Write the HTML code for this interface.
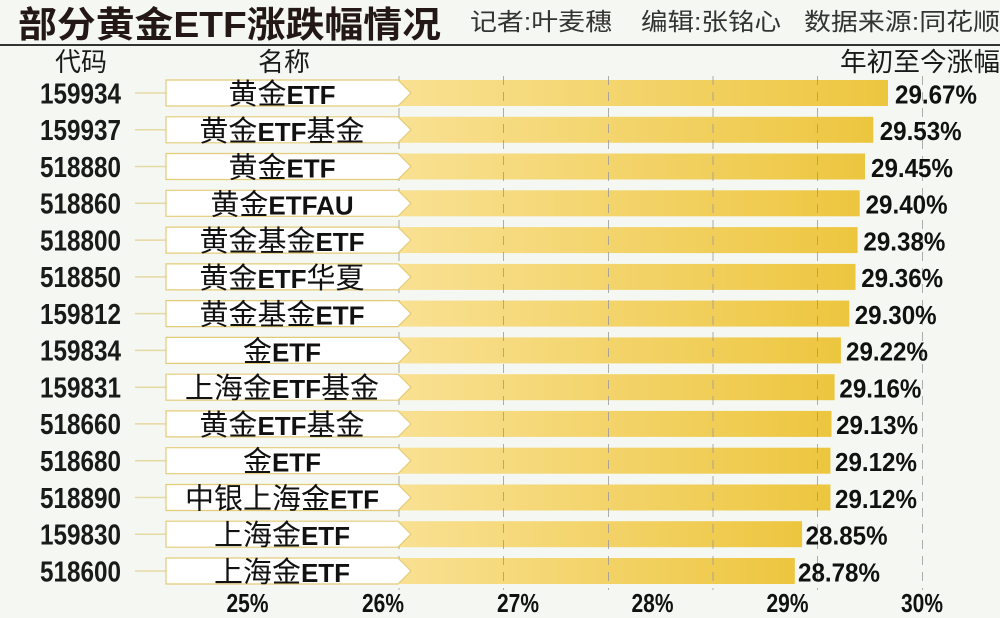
<!DOCTYPE html>
<html><head><meta charset="utf-8">
<style>
html,body{margin:0;padding:0;background:#f4f7f2;}
svg{display:block;}
.cjk{font-family:"Liberation Sans","Noto Sans CJK SC",sans-serif;}
</style></head>
<body>
<svg width="1000" height="618" viewBox="0 0 1000 618" xmlns="http://www.w3.org/2000/svg">
<defs>
<linearGradient id="g" x1="0" y1="0" x2="1" y2="0">
<stop offset="0" stop-color="#f9e194"/>
<stop offset="1" stop-color="#edc63f"/>
</linearGradient>
</defs>
<rect width="1000" height="618" fill="#f4f7f2"/>

<!-- title -->
<text x="18" y="37" class="cjk" font-size="36" font-weight="bold" fill="#231815" textLength="423" lengthAdjust="spacingAndGlyphs">部分黄金ETF涨跌幅情况</text>
<g class="cjk" font-size="24" fill="#333">
<text x="470" y="30" textLength="142" lengthAdjust="spacingAndGlyphs">记者:叶麦穗</text>
<text x="641" y="30" textLength="140" lengthAdjust="spacingAndGlyphs">编辑:张铭心</text>
<text x="804" y="30" textLength="196" lengthAdjust="spacingAndGlyphs">数据来源:同花顺</text>
</g>
<rect x="0" y="44" width="1000" height="2" fill="#333"/>

<!-- headers -->
<g class="cjk" font-size="26" fill="#1a1a1a">
<text x="55" y="71" textLength="52" lengthAdjust="spacingAndGlyphs">代码</text>
<text x="258" y="71" textLength="52" lengthAdjust="spacingAndGlyphs">名称</text>
<text x="840" y="71" textLength="160" lengthAdjust="spacingAndGlyphs">年初至今涨幅</text>
</g>

<!-- bars -->
<g fill="url(#g)">
<rect x="392" y="80" width="496" height="26"/>
<rect x="392" y="116.8" width="481.3" height="26"/>
<rect x="392" y="153.5" width="473" height="26"/>
<rect x="392" y="190.3" width="467.7" height="26"/>
<rect x="392" y="227.1" width="465.6" height="26"/>
<rect x="392" y="263.9" width="463.5" height="26"/>
<rect x="392" y="300.6" width="457.3" height="26"/>
<rect x="392" y="337.4" width="448.9" height="26"/>
<rect x="392" y="374.2" width="442.6" height="26"/>
<rect x="392" y="410.9" width="439.5" height="26"/>
<rect x="392" y="447.7" width="438.4" height="26"/>
<rect x="392" y="484.5" width="438.4" height="26"/>
<rect x="392" y="521.2" width="410.1" height="26"/>
<rect x="392" y="558" width="402.8" height="26"/>
</g>

<!-- gridlines -->
<g stroke="#9a9a9a" stroke-width="1" stroke-dasharray="9 7" opacity="0.8">
<line x1="399" y1="76" x2="399" y2="590"/>
<line x1="503.5" y1="76" x2="503.5" y2="590"/>
<line x1="608.5" y1="76" x2="608.5" y2="590"/>
<line x1="713" y1="76" x2="713" y2="590"/>
<line x1="817.5" y1="76" x2="817.5" y2="590"/>
<line x1="922.5" y1="76" x2="922.5" y2="590"/>
</g>

<!-- connectors -->
<g stroke="#e6d9a2" stroke-width="1.5">
<line x1="135" y1="93" x2="166" y2="93"/>
<line x1="135" y1="129.8" x2="166" y2="129.8"/>
<line x1="135" y1="166.5" x2="166" y2="166.5"/>
<line x1="135" y1="203.3" x2="166" y2="203.3"/>
<line x1="135" y1="240.1" x2="166" y2="240.1"/>
<line x1="135" y1="276.9" x2="166" y2="276.9"/>
<line x1="135" y1="313.6" x2="166" y2="313.6"/>
<line x1="135" y1="350.4" x2="166" y2="350.4"/>
<line x1="135" y1="387.2" x2="166" y2="387.2"/>
<line x1="135" y1="423.9" x2="166" y2="423.9"/>
<line x1="135" y1="460.7" x2="166" y2="460.7"/>
<line x1="135" y1="497.5" x2="166" y2="497.5"/>
<line x1="135" y1="534.2" x2="166" y2="534.2"/>
<line x1="135" y1="571" x2="166" y2="571"/>
</g>

<!-- label boxes -->
<g fill="#ffffff" stroke="#e3cc78" stroke-width="1.2">
<polygon points="166,80 398,80 411,93 398,106 166,106"/>
<polygon points="166,116.8 398,116.8 411,129.8 398,142.8 166,142.8"/>
<polygon points="166,153.5 398,153.5 411,166.5 398,179.5 166,179.5"/>
<polygon points="166,190.3 398,190.3 411,203.3 398,216.3 166,216.3"/>
<polygon points="166,227.1 398,227.1 411,240.1 398,253.1 166,253.1"/>
<polygon points="166,263.9 398,263.9 411,276.9 398,289.9 166,289.9"/>
<polygon points="166,300.6 398,300.6 411,313.6 398,326.6 166,326.6"/>
<polygon points="166,337.4 398,337.4 411,350.4 398,363.4 166,363.4"/>
<polygon points="166,374.2 398,374.2 411,387.2 398,400.2 166,400.2"/>
<polygon points="166,410.9 398,410.9 411,423.9 398,436.9 166,436.9"/>
<polygon points="166,447.7 398,447.7 411,460.7 398,473.7 166,473.7"/>
<polygon points="166,484.5 398,484.5 411,497.5 398,510.5 166,510.5"/>
<polygon points="166,521.2 398,521.2 411,534.2 398,547.2 166,547.2"/>
<polygon points="166,558 398,558 411,571 398,584 166,584"/>
</g>

<!-- codes -->
<g font-family="Liberation Sans, sans-serif" font-weight="bold" font-size="29" fill="#1a1a1a">
<text x="40" y="103.3" textLength="81" lengthAdjust="spacingAndGlyphs">159934</text>
<text x="40" y="140.1" textLength="81" lengthAdjust="spacingAndGlyphs">159937</text>
<text x="40" y="176.8" textLength="81" lengthAdjust="spacingAndGlyphs">518880</text>
<text x="40" y="213.6" textLength="81" lengthAdjust="spacingAndGlyphs">518860</text>
<text x="40" y="250.4" textLength="81" lengthAdjust="spacingAndGlyphs">518800</text>
<text x="40" y="287.2" textLength="81" lengthAdjust="spacingAndGlyphs">518850</text>
<text x="40" y="323.9" textLength="81" lengthAdjust="spacingAndGlyphs">159812</text>
<text x="40" y="360.7" textLength="81" lengthAdjust="spacingAndGlyphs">159834</text>
<text x="40" y="397.5" textLength="81" lengthAdjust="spacingAndGlyphs">159831</text>
<text x="40" y="434.2" textLength="81" lengthAdjust="spacingAndGlyphs">518660</text>
<text x="40" y="471" textLength="81" lengthAdjust="spacingAndGlyphs">518680</text>
<text x="40" y="507.8" textLength="81" lengthAdjust="spacingAndGlyphs">518890</text>
<text x="40" y="544.5" textLength="81" lengthAdjust="spacingAndGlyphs">159830</text>
<text x="40" y="581.3" textLength="81" lengthAdjust="spacingAndGlyphs">518600</text>
</g>

<!-- names -->
<g class="cjk" font-size="29" fill="#111" text-anchor="middle">
<text x="282" y="104">黄金<tspan font-weight="bold" font-size="26">ETF</tspan></text>
<text x="282" y="140.8">黄金<tspan font-weight="bold" font-size="26">ETF</tspan>基金</text>
<text x="282" y="177.5">黄金<tspan font-weight="bold" font-size="26">ETF</tspan></text>
<text x="282" y="214.3">黄金<tspan font-weight="bold" font-size="26">ETFAU</tspan></text>
<text x="282" y="251.1">黄金基金<tspan font-weight="bold" font-size="26">ETF</tspan></text>
<text x="282" y="287.9">黄金<tspan font-weight="bold" font-size="26">ETF</tspan>华夏</text>
<text x="282" y="324.6">黄金基金<tspan font-weight="bold" font-size="26">ETF</tspan></text>
<text x="282" y="361.4">金<tspan font-weight="bold" font-size="26">ETF</tspan></text>
<text x="282" y="398.2">上海金<tspan font-weight="bold" font-size="26">ETF</tspan>基金</text>
<text x="282" y="434.9">黄金<tspan font-weight="bold" font-size="26">ETF</tspan>基金</text>
<text x="282" y="471.7">金<tspan font-weight="bold" font-size="26">ETF</tspan></text>
<text x="282" y="508.5">中银上海金<tspan font-weight="bold" font-size="26">ETF</tspan></text>
<text x="282" y="545.2">上海金<tspan font-weight="bold" font-size="26">ETF</tspan></text>
<text x="282" y="582">上海金<tspan font-weight="bold" font-size="26">ETF</tspan></text>
</g>

<!-- values -->
<g font-family="Liberation Sans, sans-serif" font-weight="bold" font-size="26" fill="#111">
<text x="895" y="103.3" textLength="82" lengthAdjust="spacingAndGlyphs">29.67%</text>
<text x="879.7" y="140.1" textLength="82" lengthAdjust="spacingAndGlyphs">29.53%</text>
<text x="871" y="176.8" textLength="82" lengthAdjust="spacingAndGlyphs">29.45%</text>
<text x="865.6" y="213.6" textLength="82" lengthAdjust="spacingAndGlyphs">29.40%</text>
<text x="863.4" y="250.4" textLength="82" lengthAdjust="spacingAndGlyphs">29.38%</text>
<text x="861.2" y="287.2" textLength="82" lengthAdjust="spacingAndGlyphs">29.36%</text>
<text x="854.7" y="323.9" textLength="82" lengthAdjust="spacingAndGlyphs">29.30%</text>
<text x="846" y="360.7" textLength="82" lengthAdjust="spacingAndGlyphs">29.22%</text>
<text x="839.4" y="397.5" textLength="82" lengthAdjust="spacingAndGlyphs">29.16%</text>
<text x="836.1" y="434.2" textLength="82" lengthAdjust="spacingAndGlyphs">29.13%</text>
<text x="835" y="471" textLength="82" lengthAdjust="spacingAndGlyphs">29.12%</text>
<text x="835" y="507.8" textLength="82" lengthAdjust="spacingAndGlyphs">29.12%</text>
<text x="805.6" y="544.5" textLength="82" lengthAdjust="spacingAndGlyphs">28.85%</text>
<text x="798" y="581.3" textLength="82" lengthAdjust="spacingAndGlyphs">28.78%</text>
</g>

<!-- axis labels -->
<g font-family="Liberation Sans, sans-serif" font-weight="bold" font-size="26" fill="#111">
<text x="226.5" y="612" textLength="42" lengthAdjust="spacingAndGlyphs">25%</text>
<text x="362" y="612" textLength="42" lengthAdjust="spacingAndGlyphs">26%</text>
<text x="497" y="612" textLength="42" lengthAdjust="spacingAndGlyphs">27%</text>
<text x="631.5" y="612" textLength="42" lengthAdjust="spacingAndGlyphs">28%</text>
<text x="766.5" y="612" textLength="42" lengthAdjust="spacingAndGlyphs">29%</text>
<text x="901" y="612" textLength="42" lengthAdjust="spacingAndGlyphs">30%</text>
</g>
</svg>
</body></html>
